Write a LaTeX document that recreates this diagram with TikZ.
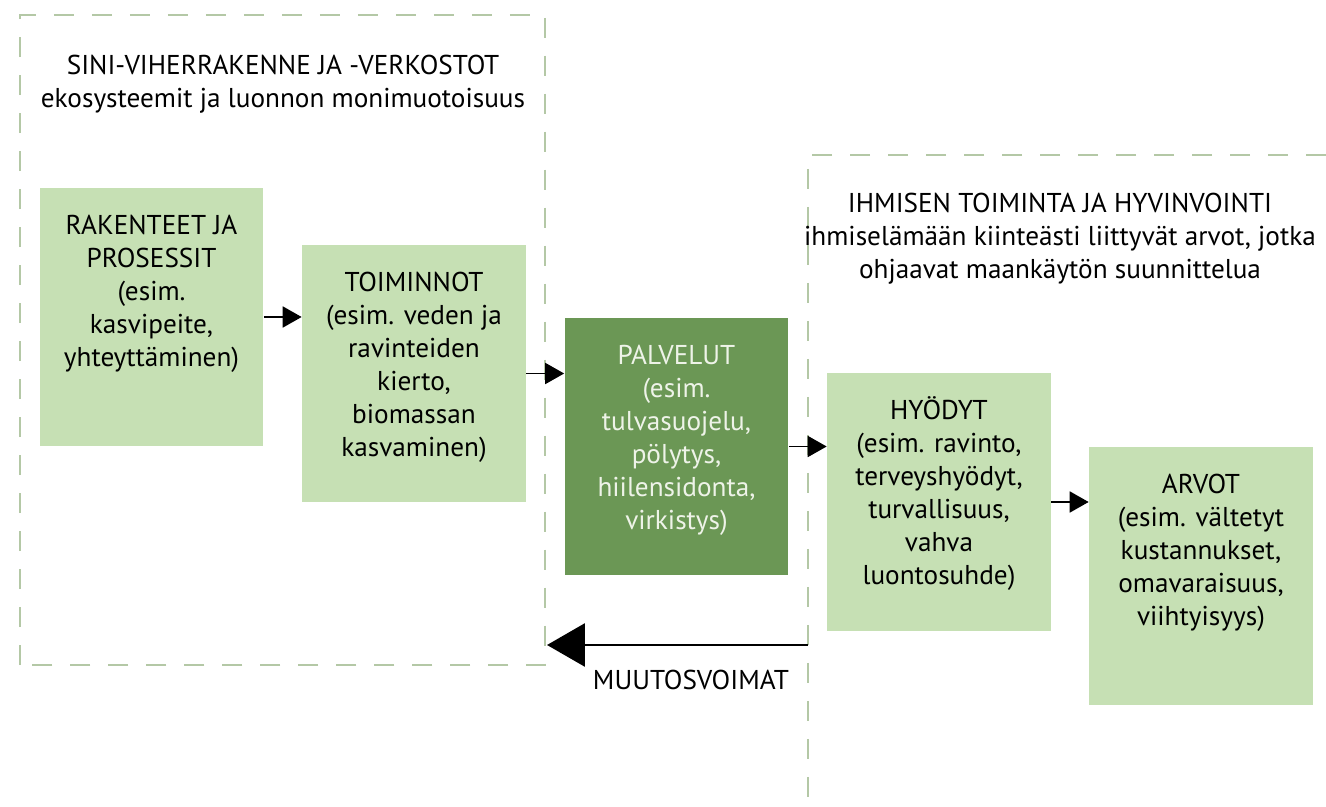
\documentclass[tikz,border=0pt]{standalone}
\usepackage{fontspec}
\setmainfont{PT Sans}
\usetikzlibrary{arrows.meta}

\definecolor{lightgreen}{HTML}{C6E0B4}
\definecolor{darkgreen}{HTML}{6B9755}
\definecolor{framegreen}{HTML}{B4C8A6}
\definecolor{paletext}{HTML}{EEF3E8}

\newcommand{\boxtext}[1]{\parbox[c][5.16cm][t]{4.48cm}{\centering\rule{0pt}{0.93cm}#1}}

\tikzset{
	frame/.style={framegreen, line width=1.1pt, dash pattern=on 0.4cm off 0.36cm},
	greenbox/.style={fill=lightgreen, inner sep=0pt},
	darkbox/.style={fill=darkgreen, text=paletext, inner sep=0pt},
	flow/.style={line width=1.1pt, -{Triangle[length=0.38cm, width=0.42cm]}},
	bigflow/.style={line width=1.7pt, -{Triangle[length=0.76cm, width=0.86cm]}},
	title/.style={align=center}
}

\begin{document}
\begin{tikzpicture}[x=0.02cm, y=-0.02cm, font=\fontsize{15.5}{18.8}\selectfont]
		\useasboundingbox (0,0) rectangle (1326,807);
		
		%Frames
		\draw[frame] (20,665) -- (20,15) -- (545,15) -- (545,665) -- cycle;
		\draw[frame] (1326,155) -- (808,155) -- (808,807);
		
		%Titles
		\node[title] (nature) at (283,84) {SINI-VIHERRAKENNE JA -VERKOSTOT\\ekosysteemit ja luonnon monimuotoisuus};
		\node[title] (human) at (1060,239) {IHMISEN TOIMINTA JA HYVINVOINTI\\ihmiselämään kiinteästi liittyvät arvot, jotka\\ohjaavat maankäytön suunnittelua};
		
		%Boxes
		\node[greenbox] (structures) at (151.5,317) {\boxtext{RAKENTEET JA\\PROSESSIT\\(esim.\\kasvipeite,\\yhteyttäminen)}};
		\node[greenbox] (functions) at (414,373.5) {\boxtext{TOIMINNOT\\(esim. veden ja\\ravinteiden\\kierto,\\biomassan\\kasvaminen)}};
		\node[darkbox] (services) at (676.5,446.5) {\boxtext{PALVELUT\\(esim.\\tulvasuojelu,\\pölytys,\\hiilensidonta,\\virkistys)}};
		\node[greenbox] (benefits) at (939,502) {\boxtext{HYÖDYT\\(esim. ravinto,\\terveyshyödyt,\\turvallisuus,\\vahva\\luontosuhde)}};
		\node[greenbox] (values) at (1201,576) {\boxtext{ARVOT\\(esim. vältetyt\\kustannukset,\\omavaraisuus,\\viihtyisyys)}};
		
		%Flow
		\draw[flow] (structures.east) -- (structures.east -| functions.west);
		\draw[flow] (functions.east) -- (functions.east -| services.west);
		\draw[flow] (services.east) -- (services.east -| benefits.west);
		\draw[flow] (benefits.east) -- (benefits.east -| values.west);
		
		%Drivers
		\coordinate (drivestart) at (808,645);
		\coordinate (driveend) at (547,645);
		\draw[bigflow] (drivestart) -- (driveend);
		\node (drivers) at (691,680) {MUUTOSVOIMAT};
		
	\end{tikzpicture}
\end{document}
